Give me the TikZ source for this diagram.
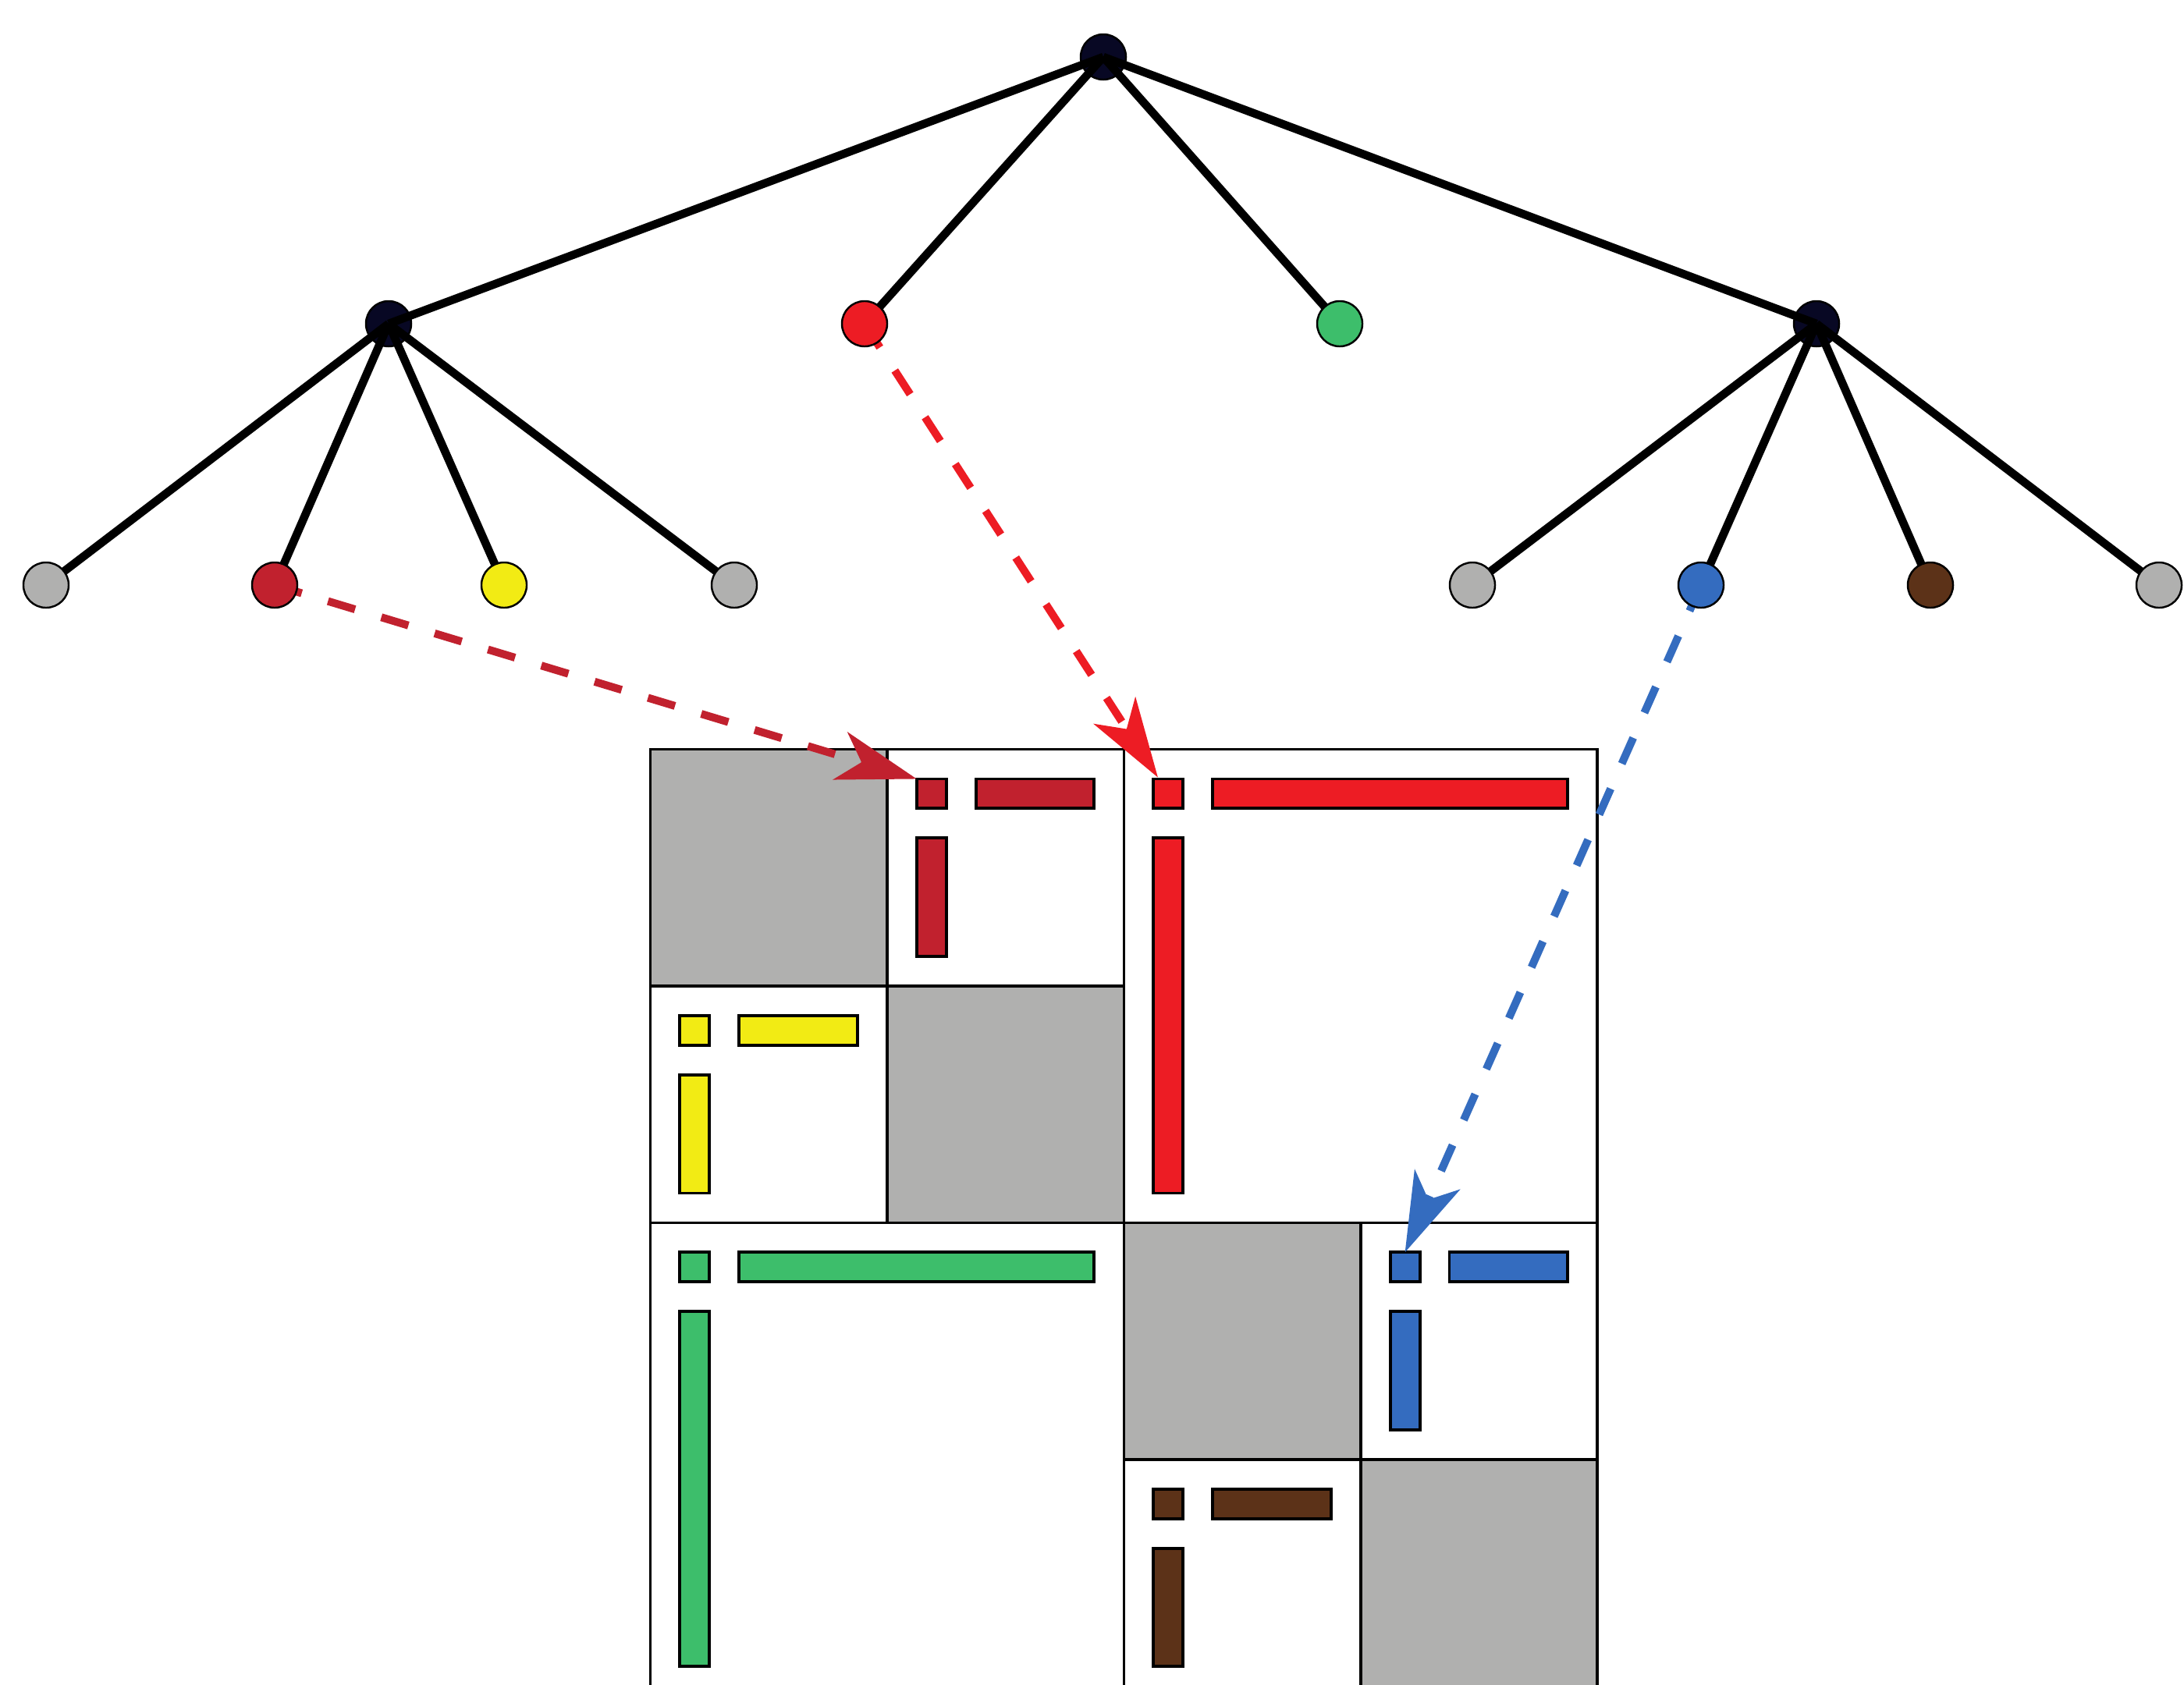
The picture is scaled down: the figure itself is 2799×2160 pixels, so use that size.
\documentclass[tikz,border=0pt]{standalone}
\usetikzlibrary{arrows.meta}
\pgfdeclarelayer{back}
\pgfdeclarelayer{arrowlayer}
\pgfdeclarelayer{innerlayer}
\pgfdeclarelayer{edgelayer}
\pgfsetlayers{back,arrowlayer,innerlayer,edgelayer,main}
\definecolor{cgray}{RGB}{176,176,175}
\definecolor{cdred}{RGB}{193,33,46}
\definecolor{cred}{RGB}{237,28,36}
\definecolor{cyel}{RGB}{242,235,20}
\definecolor{cgreen}{RGB}{61,190,107}
\definecolor{cblue}{RGB}{52,108,191}
\definecolor{cbrown}{RGB}{92,50,24}
\definecolor{cnavy}{RGB}{8,8,36}
\begin{document}
\begin{tikzpicture}[x=0.01cm,y=-0.01cm,
  innernode/.style={circle, draw=black, line width=0.7pt, fill=cnavy, minimum size=0.58cm, inner sep=0pt},
  leafnode/.style={circle, draw=black, line width=0.7pt, minimum size=0.58cm, inner sep=0pt},
  treeline/.style={line width=3pt, black},
  ptr/.style={line width=2.85pt, dash pattern=on 10.3pt off 10pt, -{Stealth[length=29pt,width=18pt,inset=8pt]}},
  cellline/.style={draw=black, line width=1pt},
  blk/.style={draw=black, line width=1.1pt}]
\useasboundingbox (0,0) rectangle (2799,2160);

% ---------- matrix ----------
\begin{pgfonlayer}{back}
\begin{scope}[xshift=8.33cm, yshift=-9.6cm, x=0.37906cm, y=-0.37906cm]
  % white blocks
  \draw[cellline, fill=white] (8,0) rectangle (16,8);
  \draw[cellline, fill=white] (16,0) rectangle (32,16);
  \draw[cellline, fill=white] (0,8) rectangle (8,16);
  \draw[cellline, fill=white] (0,16) rectangle (16,32);
  \draw[cellline, fill=white] (24,16) rectangle (32,24);
  \draw[cellline, fill=white] (16,24) rectangle (24,32);
  % gray diagonal blocks
  \draw[cellline, fill=cgray] (0,0) rectangle (8,8);
  \draw[cellline, fill=cgray] (8,8) rectangle (16,16);
  \draw[cellline, fill=cgray] (16,16) rectangle (24,24);
  \draw[cellline, fill=cgray] (24,24) rectangle (32,32);
  % coloured bars
  \draw[blk, fill=cdred] (9,1) rectangle (10,2) (11,1) rectangle (15,2) (9,3) rectangle (10,7);
  \draw[blk, fill=cred] (17,1) rectangle (18,2) (19,1) rectangle (31,2) (17,3) rectangle (18,15);
  \draw[blk, fill=cyel] (1,9) rectangle (2,10) (3,9) rectangle (7,10) (1,11) rectangle (2,15);
  \draw[blk, fill=cgreen] (1,17) rectangle (2,18) (3,17) rectangle (15,18) (1,19) rectangle (2,31);
  \draw[blk, fill=cblue] (25,17) rectangle (26,18) (27,17) rectangle (31,18) (25,19) rectangle (26,23);
  \draw[blk, fill=cbrown] (17,25) rectangle (18,26) (19,25) rectangle (23,26) (17,27) rectangle (18,31);
  % arrow targets
  \coordinate (tA) at (9,1);
  \coordinate (tB) at (17.15,0.95);
  \coordinate (tC) at (25.5,17);
\end{scope}
\end{pgfonlayer}

% ---------- tree nodes ----------
\begin{pgfonlayer}{innerlayer}
\node[innernode] (r) at (1414,73) {};
\node[innernode] (a) at (498,415) {};
\node[innernode] (d) at (2328,415) {};
\end{pgfonlayer}

\node[leafnode, fill=cred]   (b) at (1108,415) {};
\node[leafnode, fill=cgreen] (c) at (1717,415) {};

\node[leafnode, fill=cgray]  (l1) at (59,750) {};
\node[leafnode, fill=cdred]  (l2) at (352,750) {};
\node[leafnode, fill=cyel]   (l3) at (646,750) {};
\node[leafnode, fill=cgray]  (l4) at (941,750) {};
\node[leafnode, fill=cgray]  (l5) at (1887,750) {};
\node[leafnode, fill=cblue]  (l6) at (2180,750) {};
\node[leafnode, fill=cbrown] (l7) at (2474,750) {};
\node[leafnode, fill=cgray]  (l8) at (2767,750) {};

% ---------- tree edges ----------
\begin{pgfonlayer}{edgelayer}
\draw[treeline] (r.center) -- (a.center);
\draw[treeline] (r.center) -- (b.center);
\draw[treeline] (r.center) -- (c.center);
\draw[treeline] (r.center) -- (d.center);
\draw[treeline] (a.center) -- (l1.center);
\draw[treeline] (a.center) -- (l2.center);
\draw[treeline] (a.center) -- (l3.center);
\draw[treeline] (a.center) -- (l4.center);
\draw[treeline] (d.center) -- (l5.center);
\draw[treeline] (d.center) -- (l6.center);
\draw[treeline] (d.center) -- (l7.center);
\draw[treeline] (d.center) -- (l8.center);
\end{pgfonlayer}

% ---------- dashed pointers ----------
\begin{pgfonlayer}{arrowlayer}
\draw[ptr, cdred] (l2.center) -- (tA);
\draw[ptr, cred] (b.center) -- (tB);
\draw[ptr, cblue] (l6.center) -- (tC);
\end{pgfonlayer}
\end{tikzpicture}
\end{document}
